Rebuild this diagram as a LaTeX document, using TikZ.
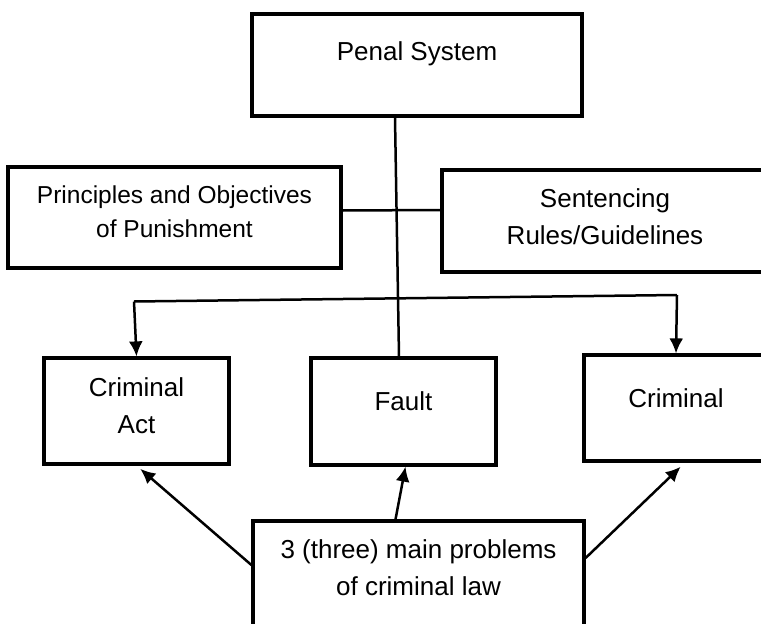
\documentclass[tikz,border=0pt]{standalone}
\usepackage{fontspec}
\setmainfont{Liberation Sans}
\usetikzlibrary{positioning,arrows.meta}

\begin{document}
\begin{tikzpicture}[
    x=1pt, y=-1pt,
    box/.style={rectangle, draw=black, line width=3.2pt, inner sep=0pt, align=center},
    boxtext/.style={font=\fontsize{26}{37}\selectfont, align=center},
    link/.style={draw=black, line width=2.5pt}
    ]
        \useasboundingbox (0,0) rectangle (761,624);

        %Nodes
        \node[box, minimum width=330pt, minimum height=102pt,
            label={[boxtext, yshift=11pt]center:Penal System}]
            (penal)       at (417,65)      {};
        \node[box, minimum width=333pt, minimum height=101pt,
            label={[boxtext, font=\fontsize{24.5}{34}\selectfont, yshift=6pt]center:Principles and Objectives\\of Punishment}]
            (principles)  at (174.5,217.5) {};
        \node[box, minimum width=326pt, minimum height=102pt,
            label={[boxtext, yshift=4pt]center:Sentencing\\Rules/Guidelines}]
            (sentencing)  at (605,221)     {};
        \node[box, minimum width=185pt, minimum height=106pt,
            label={[boxtext, yshift=5pt]center:Criminal\\Act}]
            (crimact)     at (136.5,411)   {};
        \node[box, minimum width=185pt, minimum height=107pt,
            label={[boxtext, yshift=10pt]center:Fault}]
            (fault)       at (403.5,411.5) {};
        \node[box, minimum width=184pt, minimum height=106pt,
            label={[boxtext, yshift=10pt]center:Criminal}]
            (criminal)    at (676,408)     {};
        \node[box, minimum width=331pt, minimum height=108pt,
            label={[boxtext, yshift=7pt]center:3 (three) main problems\\of criminal law}]
            (problems)    at (418.5,575)   {};

        \coordinate (barL) at (134,301.5);
        \coordinate (barR) at (677,295);

        %Lines
        \draw[link]
            ([xshift=-22pt]penal.south) -- ([xshift=-4.5pt]fault.north);
        \draw[link]
            ([yshift=7pt]principles.east) -- ([yshift=11pt]sentencing.west);
        \draw[link]
            (barL) -- (barR);
        \draw[link, ->, >={Latex[length=15pt,width=14pt]}]
            (barL) -- (crimact.north);
        \draw[link, ->, >={Latex[length=15pt,width=14pt]}]
            (barR) -- (criminal.north);
        \draw[link, ->, >={Latex[length=15pt,width=14pt]}, shorten >=5pt]
            ([yshift=10pt]problems.west) -- (crimact.south);
        \draw[link, ->, >={Latex[length=15pt,width=14pt]}]
            ([xshift=-23pt]problems.north) -- ([xshift=2pt]fault.south);
        \draw[link, ->, >={Latex[length=15pt,width=14pt]}, shorten >=6pt]
            ([yshift=17pt]problems.east) -- ([xshift=9pt]criminal.south);
\end{tikzpicture}
\end{document}
